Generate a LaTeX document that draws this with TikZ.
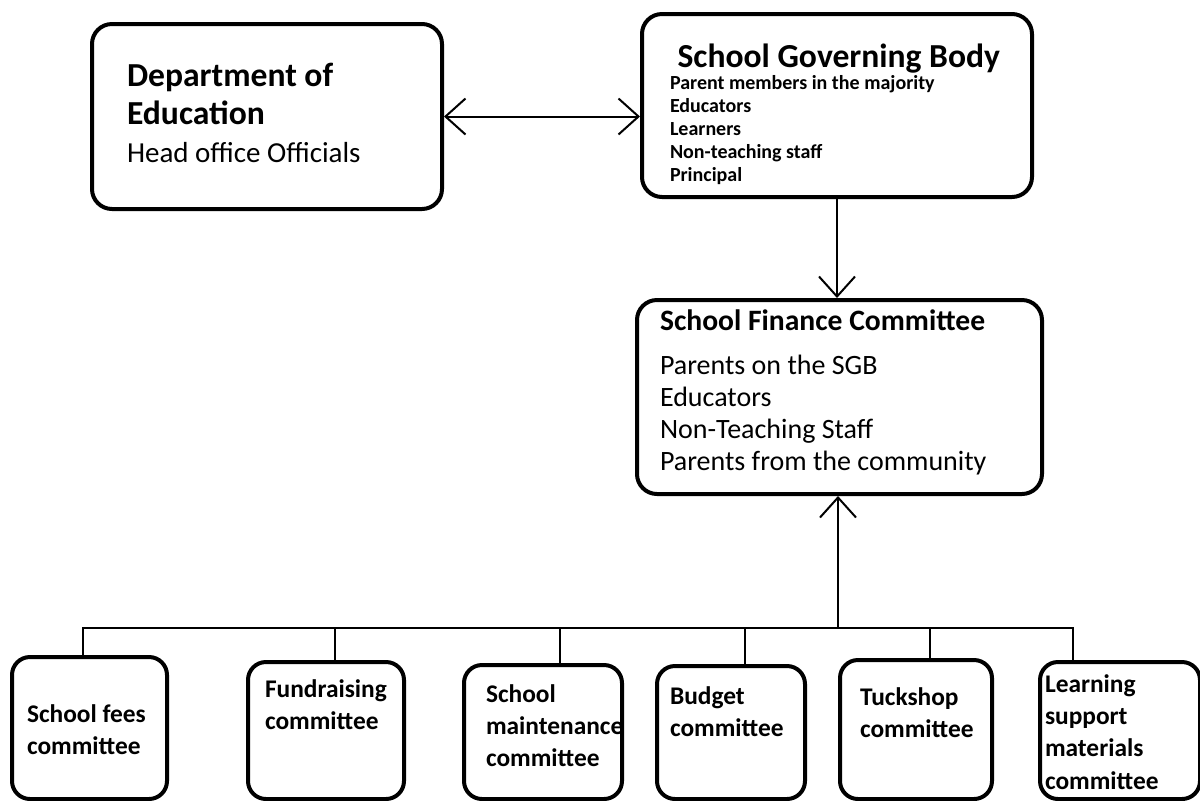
\documentclass[tikz,border=0pt]{standalone}
\usepackage{fontspec}
\setmainfont{Carlito}
\usetikzlibrary{arrows.meta}

\newcommand\bRad{10pt}
\newcommand\sRad{9pt}
\newcommand\sDrop{628}
\tikzstyle{block} = [rectangle, rounded corners=\bRad, draw=black, line width=2pt, align=flush left, anchor=north west, inner ysep=0pt]
\tikzstyle{sub} = [rectangle, rounded corners=\sRad, draw=black, line width=2pt, align=flush left, anchor=north west, inner ysep=0pt, font=\fontsize{12.7}{16.2}\selectfont\bfseries]
\tikzstyle{arrow} = [line width=1pt, ->, >={Straight Barb[length=10pt,width=18pt]}]
\tikzstyle{line} = [line width=1pt]

\begin{document}
\begin{tikzpicture} [x=0.5pt, y=-0.5pt]
\useasboundingbox (0,0) rectangle (1200,800);

% top row
\node (dept) [block, minimum width=175pt, text width=140pt, inner xsep=17.5pt, text height=31pt, text depth=61.5pt, font=\fontsize{14.5}{19}\selectfont] at (90,22)
  {{\fontsize{16.8}{19}\selectfont\bfseries Department of\\ Education}\\ Head office Officials};
\node (sgb) [block, minimum width=195pt, text width=167pt, inner xsep=14pt, text height=26.5pt, text depth=65pt, font=\fontsize{10}{11.4}\selectfont\bfseries] at (640,12)
  {\lineskiplimit=-20pt \makebox[0pt][l]{\fontsize{16.8}{11.4}\selectfont\ School Governing Body}\\[0pt] Parent members in the majority\\ Educators\\ Learners\\ Non-teaching staff\\ Principal};
\node (sfc) [block, minimum width=202.5pt, text width=179.5pt, inner xsep=11.5pt, text height=15pt, text depth=82pt, font=\fontsize{14}{16}\selectfont] at (635,298)
  {{\fontsize{14.8}{16}\selectfont\bfseries School Finance Committee}\\[6pt] Parents on the SGB\\ Educators\\ Non-Teaching Staff\\ Parents from the community};

% committees
\node (fees) [sub, minimum width=77.5pt, text width=62.5pt, inner xsep=7.5pt, text height=32.5pt, text depth=38.5pt] at (10,655) {School fees\\ committee};
\node (fund) [sub, minimum width=78pt, text width=61pt, inner xsep=8.5pt, text height=17.5pt, text depth=51pt] at (246,660) {Fundraising\\ committee};
\node (maint) [sub, minimum width=79pt, text width=57pt, inner xsep=11pt, text height=18.5pt, text depth=48.5pt] at (462,663) {School\\ maintenance\\ committee};
\node (budget) [sub, minimum width=74pt, text width=61pt, inner xsep=6.5pt, text height=19pt, text depth=47.5pt] at (655,664) {Budget\\ committee};
\node (tuck) [sub, minimum width=76pt, text width=56pt, inner xsep=10pt, text height=22.5pt, text depth=47pt] at (838,658) {Tuckshop\\ committee};
\node (learn) [sub, minimum width=80pt, text width=75pt, inner xsep=2.5pt, text height=15pt, text depth=53.5pt] at (1038,660) {Learning\\ support\\ materials\\ committee};

\draw [arrow, <->] (dept.east) -- (dept.east -| sgb.west);
\draw [arrow] (sgb.south) -- (sgb.south |- sfc.north);

\coordinate (bus) at (838,\sDrop);
\draw [arrow] (bus) -- (bus |- sfc.south);
\foreach \n/\x in {fees/83, fund/335, maint/560, budget/745, tuck/930, learn/1073}{
  \coordinate (d\n) at (\x,\sDrop);
  \draw [line] (bus) -- (d\n) -- (d\n |- \n.north);
}
\end{tikzpicture}
\end{document}
